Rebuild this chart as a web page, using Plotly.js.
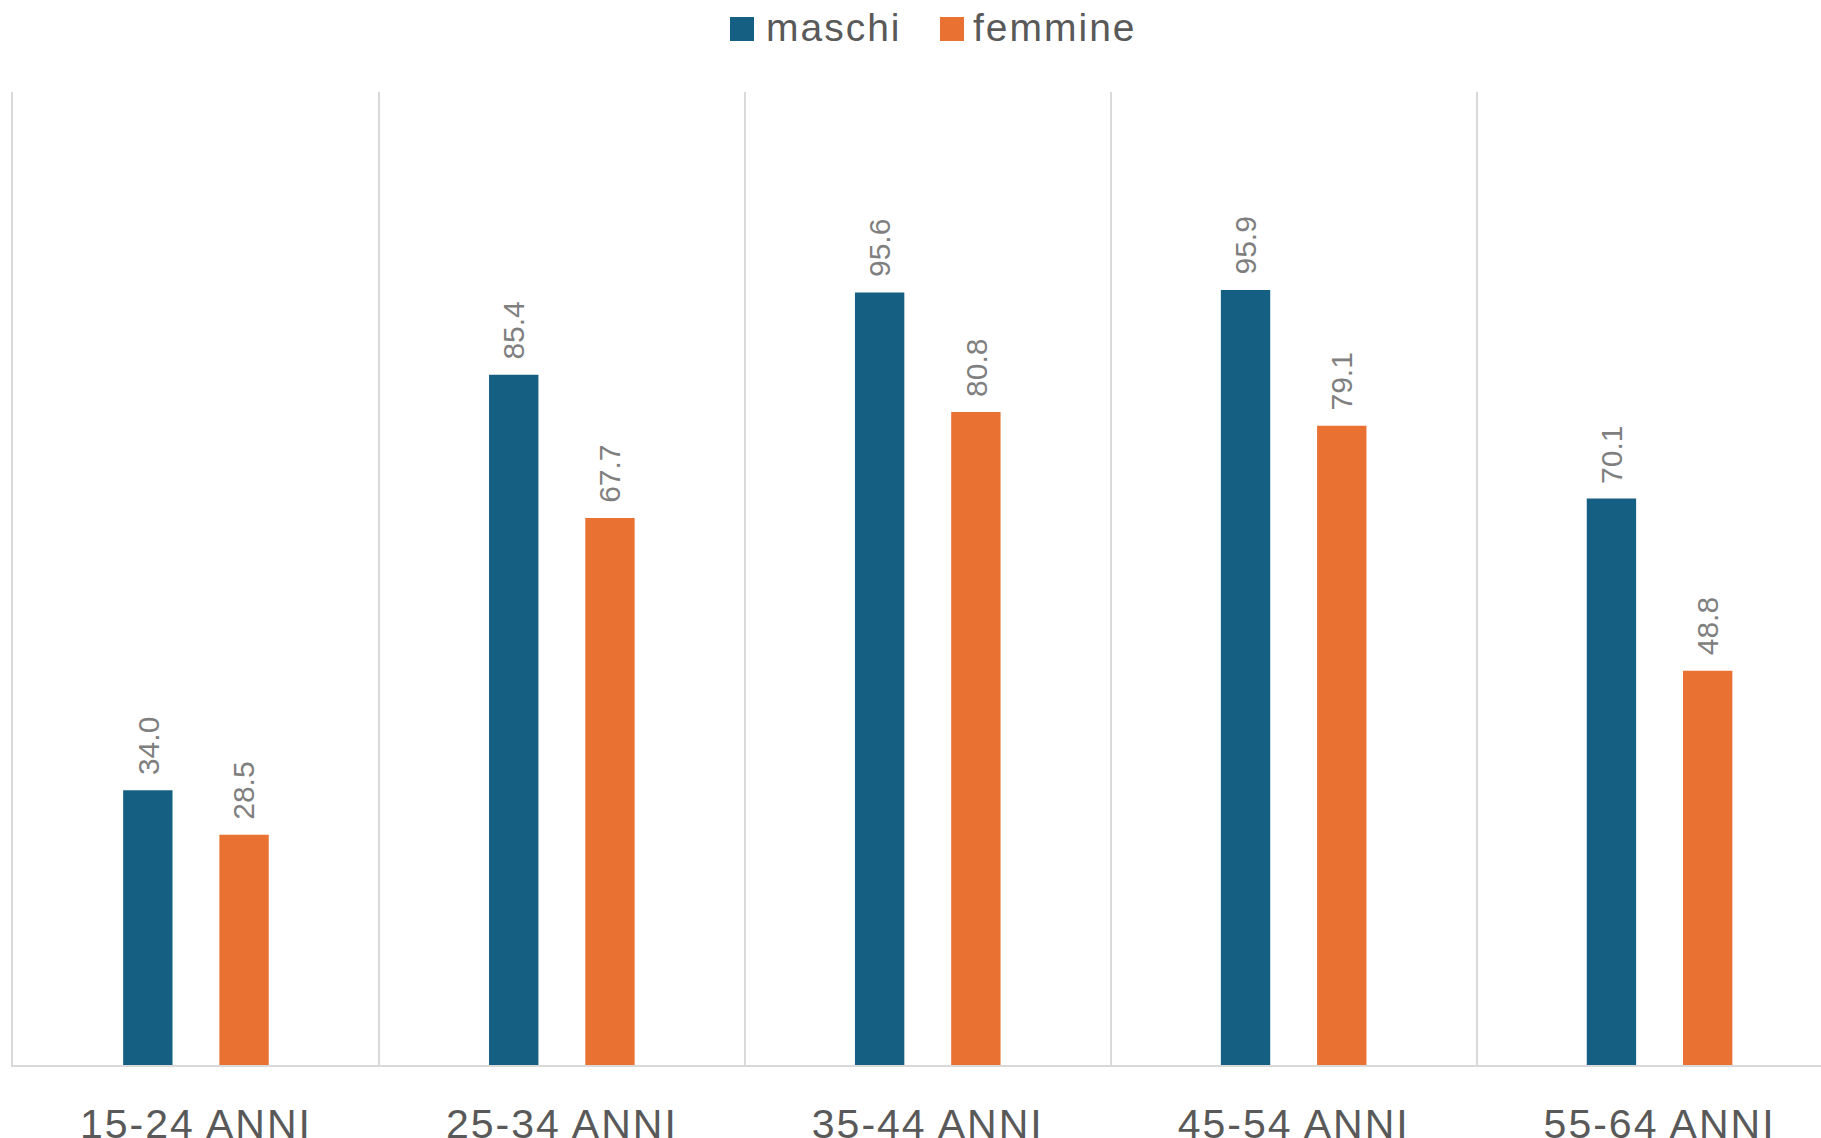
<!DOCTYPE html>
<html>
<head>
<meta charset="utf-8">
<script src="https://cdn.plot.ly/plotly-3.0.1.min.js"></script>
<style>
  html, body { margin: 0; padding: 0; background: #ffffff; }
  #chart { width: 1821px; height: 1138px; }
  .xtick text { letter-spacing: 2px; }
  g.annotation[data-index="10"] text, g.annotation[data-index="11"] text { letter-spacing: 2px; }
</style>
</head>
<body>
<div id="chart"></div>
<script>
// ---- data ----
const categories = ["15-24 ANNI", "25-34 ANNI", "35-44 ANNI", "45-54 ANNI", "55-64 ANNI"];
const seriesNames = ["maschi", "femmine"];
const maschi = [34.0, 85.4, 95.6, 95.9, 70.1];
const femmine = [28.5, 67.7, 80.8, 79.1, 48.8];
const seriesColors = ["#156082", "#E97132"];

// ---- layout constants ----
const W = 1821, H = 1138;
const M = { l: 13, r: 0, t: 92, b: 73 };
const plotW = W - M.l - M.r, plotH = H - M.t - M.b;
const catPx = 365.9;
const xMax = -0.5 + plotW / catPx;
const barOffset = 0.1315;
const FONT = "Liberation Sans, Arial, sans-serif";

const seriesValues = [maschi, femmine];
const traces = seriesValues.map((vals, s) => ({
  type: "bar",
  name: seriesNames[s],
  x: categories,
  y: vals,
  marker: { color: seriesColors[s], line: { width: 0 } },
  hoverinfo: "x+y+name"
}));

// data labels (rotated, above bars)
const annotations = [];
seriesValues.forEach((vals, s) => {
  const off = s === 0 ? -barOffset : barOffset;
  vals.forEach((v, i) => {
    annotations.push({
      x: i + off, y: v, xref: "x", yref: "y",
      text: v.toFixed(1),
      textangle: -90,
      showarrow: false,
      xanchor: "center", yanchor: "bottom",
      yshift: 13,
      font: { family: FONT, size: 30, color: "#7f7f7f" }
    });
  });
});

// custom legend (larger swatches than Plotly's default)
const px2x = px => (px - M.l) / plotW;
const py2y = py => (H - M.b - py) / plotH;
const legendItems = [
  { sq: 730, text: 770 },
  { sq: 940, text: 978 }
];
const shapes = [];
legendItems.forEach((it, s) => {
  shapes.push({
    type: "rect", xref: "paper", yref: "paper",
    x0: px2x(it.sq), x1: px2x(it.sq + 24),
    y0: py2y(41), y1: py2y(17),
    fillcolor: seriesColors[s], line: { width: 0 }
  });
  annotations.push({
    xref: "paper", yref: "paper",
    x: px2x(it.text), y: py2y(28),
    xanchor: "left", yanchor: "middle",
    text: seriesNames[s], showarrow: false,
    font: { family: FONT, size: 39, color: "#595959" }
  });
});

const layout = {
  width: W, height: H,
  margin: M,
  paper_bgcolor: "#ffffff",
  plot_bgcolor: "#ffffff",
  showlegend: false,
  barmode: "group",
  bargap: 0.474,
  bargroupgap: 0.487,
  font: { family: FONT, color: "#595959" },
  xaxis: {
    type: "category",
    range: [-0.5, xMax],
    showline: true, linecolor: "#d9d9d9", linewidth: 2,
    showgrid: true, gridcolor: "#d9d9d9", gridwidth: 2,
    tickson: "boundaries",
    ticks: "",
    ticklabelstandoff: 22,
    tickfont: { family: FONT, size: 41, color: "#595959" },
    zeroline: false,
    fixedrange: true
  },
  yaxis: {
    range: [0, 120.4],
    showgrid: false, zeroline: false,
    showticklabels: false, ticks: "",
    showline: true, linecolor: "#d9d9d9", linewidth: 2,
    fixedrange: true
  },
  shapes: shapes,
  annotations: annotations
};

Plotly.newPlot("chart", traces, layout, { displayModeBar: false, responsive: false });
</script>
</body>
</html>
